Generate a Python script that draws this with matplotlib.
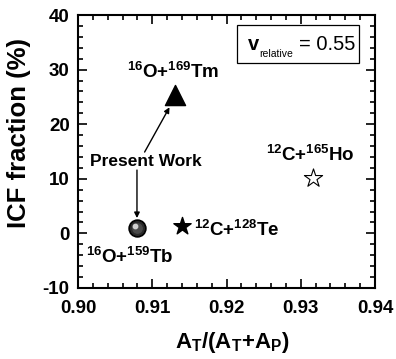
import matplotlib
matplotlib.use("Agg")
import matplotlib.pyplot as plt
from matplotlib.ticker import MultipleLocator
from matplotlib.patches import Rectangle

plt.rcParams['font.family'] = ['Liberation Sans', 'DejaVu Sans']
plt.rcParams['mathtext.fontset'] = 'custom'
plt.rcParams['mathtext.rm'] = 'Liberation Sans'
plt.rcParams['mathtext.bf'] = 'Liberation Sans:bold'
plt.rcParams['mathtext.it'] = 'Liberation Sans:italic'

# data
ratio_present = [0.9080]
icf_present = [0.9]
ratio_tm = [0.9131]
icf_tm = [25.3]
ratio_te = [0.9140]
icf_te = [1.3]
ratio_ho = [0.9317]
icf_ho = [10.1]

x_ticks = [0.90, 0.91, 0.92, 0.93, 0.94]
x_ticklabels = ['0.90', '0.91', '0.92', '0.93', '0.94']
y_ticks = [-10, 0, 10, 20, 30, 40]
y_ticklabels = ['-10', '0', '10', '20', '30', '40']

fig = plt.figure(figsize=(3.96, 3.59), dpi=100)
ax = fig.add_axes([0.197, 0.198, 0.750, 0.760])

# shaded ball
ax.scatter(ratio_present, icf_present, s=150, color='black', zorder=5)
ax.scatter(ratio_present, icf_present, s=95, color='#2a2a2a', zorder=6)
ax.scatter(ratio_present, icf_present, s=45, color='#4a4a4a', zorder=7)
ax.scatter([ratio_present[0] - 0.0003], [icf_present[0] + 0.5], s=10, color='#d0d0d0', zorder=8)

ax.scatter(ratio_tm, icf_tm, marker='^', s=210, color='black', zorder=5)
ax.scatter(ratio_te, icf_te, marker='*', s=170, color='black', zorder=5)
ax.scatter(ratio_ho, icf_ho, marker='*', s=190, facecolor='white', edgecolor='black', linewidth=0.8, zorder=5)

ax.set_xlim(0.90, 0.94)
ax.set_ylim(-10, 40)
ax.xaxis.set_minor_locator(MultipleLocator(0.002))
ax.yaxis.set_minor_locator(MultipleLocator(2))
ax.set_xticks(x_ticks)
ax.set_xticklabels(x_ticklabels, fontweight='bold', fontsize=13.5)
ax.set_yticks(y_ticks)
ax.set_yticklabels(y_ticklabels, fontweight='bold', fontsize=13.5)
ax.tick_params(which='both', direction='in', top=True, right=True, width=1.2)
ax.tick_params(which='major', length=6.5)
ax.tick_params(axis='x', which='major', pad=9)
ax.tick_params(axis='y', which='major', pad=6)
ax.tick_params(which='minor', length=3.5)
for s in ax.spines.values():
    s.set_linewidth(1.5)

ax.set_xlabel(r'A$_\mathbf{T}$/(A$_\mathbf{T}$+A$_\mathbf{P}$)', fontsize=16,
              fontweight='bold')
ax.xaxis.set_label_coords(0.52, -0.155)
ax.set_ylabel('ICF fraction (%)', fontsize=18.5, fontweight='bold')
ax.yaxis.set_label_coords(-0.158, 0.568)

tk = dict(fontsize=13.5, ha='center', va='center')
ax.text(0.91285, 29.6, r'$\mathbf{^{16}O{+}^{169}Tm}$', **tk)
ax.text(0.9091, 13.1, 'Present Work', fontsize=12.5, fontweight='bold', ha='center', va='center')
ax.text(0.93133, 14.4, r'$\mathbf{^{12}C{+}^{165}Ho}$', **tk)
ax.text(0.92135, 0.6, r'$\mathbf{^{12}C{+}^{128}Te}$', **tk)
ax.text(0.90696, -4.3, r'$\mathbf{^{16}O{+}^{159}Tb}$', **tk)

arrow = dict(arrowstyle='-|>', color='black', lw=1.0, mutation_scale=8, shrinkA=0, shrinkB=0)
ax.annotate('', xy=(0.91232, 23.1), xytext=(0.90897, 14.9), arrowprops=arrow)
ax.annotate('', xy=(0.90794, 2.8), xytext=(0.90794, 11.6), arrowprops=arrow)

ax.add_patch(Rectangle((0.92142, 31.21), 0.01647, 6.96, facecolor='white', edgecolor='black',
                       linewidth=0.9, zorder=4))
ax.text(0.92289, 33.53, 'v', fontsize=14.5, fontweight='bold', ha='left', va='baseline', zorder=6)
ax.text(0.92436, 32.31, 'relative', fontsize=7.5, ha='left', va='baseline', zorder=6)
ax.text(0.92972, 33.53, '= 0.55', fontsize=14.5, ha='left', va='baseline', zorder=6)

fig.savefig('out.png', dpi=100)
